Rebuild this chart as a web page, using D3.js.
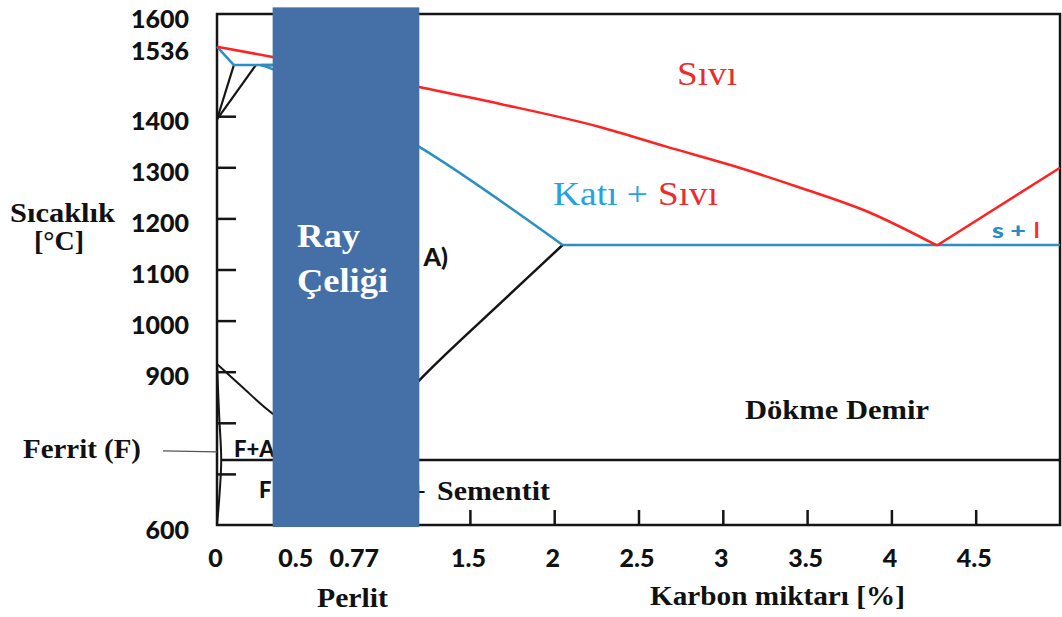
<!DOCTYPE html>
<html><head><meta charset="utf-8">
<script src="https://cdn.jsdelivr.net/npm/d3@7"></script>
<style>html,body{margin:0;padding:0;background:#fff;}svg{display:block;}</style>
</head><body>
<svg id="c" width="1062" height="617"></svg>
<script>
// ---- data ----
const tempTickValues = [1400,1300,1200,1100,1000,900,800,700];
const tempLabelValues = [1600,1536,1400,1300,1200,1100,1000,900,600];
const carbonLabelValues = [0,0.5,0.77,1.5,2,2.5,3,3.5,4,4.5];
const carbonTickValues = [0.5,1,1.5,2,2.5,3,3.5,4,4.5];

// liquidus, hypoeutectic branch (to the eutectic point) and hypereutectic branch
const liquidusC = [0,0.33,1.2,1.68,2.27,2.67,3.06,3.46,3.86,4.27];
const liquidusT = [1536,1516,1457,1424,1379,1340,1303,1260,1213,1147];
const liquidus2C = [4.27,5.0];
const liquidus2T = [1147,1299];
const deltaSolidusC = [0,0.1,0.5];
const deltaSolidusT = [1536,1500,1500];
const gammaSolidusC = [0.26,0.33,1.2,2.05];
const gammaSolidusT = [1500,1492,1340,1148];
const eutecticC = [2.05,5];
const eutecticT = [1148,1148];
const acmC = [0.77,1.22,1.70,2.05];
const acmT = [727,890,1040,1148];
const a3C = [0,0.15,0.33,0.77];
const a3T = [915,870,818,727];
const ferriteC = [0,0.012,0.025,0.015,0];
const ferriteT = [915,820,727,660,600];
const deltaGamma1C = [0,0.1];
const deltaGamma1T = [1394,1500];
const deltaGamma2C = [0,0.23];
const deltaGamma2T = [1394,1500];
const peritecticC = [0.26,0.33];
const peritecticT = [1500,1500];
const eutectoidC = [0.025,5];
const eutectoidT = [727,727];
const ferritLeaderC = [-0.32,0];
const ferritLeaderT = [745,743];
const railSteelC = [0.33,1.2];
const railSteelT = [596,1613];

// ---- scales ----
const svg = d3.select("#c");
svg.append("rect").attr("width",1062).attr("height",617).attr("fill","#fff");
const x = d3.scaleLinear().domain([0,5]).range([217,1060]);
const y = d3.scaleLinear().domain([600,1600]).range([525,14]);

const RED = "#ff2222", BLUE = "#2b8fc4", BLACK = "#151515";
const SERIF = "'Liberation Serif','Times New Roman',serif";
const SANS = "Lato,'Liberation Sans',Arial,sans-serif";

// frame
svg.append("rect")
  .attr("x", x(0)).attr("y", y(1600))
  .attr("width", x(5)-x(0)).attr("height", y(600)-y(1600))
  .attr("fill","none").attr("stroke",BLACK).attr("stroke-width",2.5);

// axes
const yLab = svg.append("g").attr("transform",`translate(${x(0)},0)`)
  .call(d3.axisLeft(y).tickValues(tempLabelValues).tickSize(0).tickPadding(28).tickFormat(d3.format("d")));
yLab.select(".domain").remove();
yLab.selectAll("text").attr("dy","0.52em").attr("font-family",SANS).attr("font-weight","900").attr("font-size",25).attr("fill","#111");

const yTk = svg.append("g").attr("transform",`translate(${x(0)},0)`)
  .call(d3.axisRight(y).tickValues(tempTickValues).tickSize(19).tickFormat(""));
yTk.select(".domain").remove();
yTk.selectAll("line").attr("stroke",BLACK).attr("stroke-width",2.5);

const xLab = svg.append("g").attr("transform",`translate(0,${y(600)})`)
  .call(d3.axisBottom(x).tickValues(carbonLabelValues).tickSize(0).tickPadding(24).tickFormat(d=>String(d)));
xLab.select(".domain").remove();
xLab.selectAll("text")
  .attr("dx", d => d === 0.5 ? "-6" : d === 0.77 ? "7" : "-2")
  .attr("font-family",SANS).attr("font-weight","900").attr("font-size",25).attr("fill","#111");

const xTk = svg.append("g").attr("transform",`translate(0,${y(600)})`)
  .call(d3.axisTop(x).tickValues(carbonTickValues).tickSize(15).tickFormat(""));
xTk.select(".domain").remove();
xTk.selectAll("line").attr("stroke",BLACK).attr("stroke-width",2.5);

// lines
function curve(cs, ts, color, w, c){
  const pts = cs.map((d,i)=>[d,ts[i]]);
  svg.append("path").datum(pts)
    .attr("d", d3.line().x(d=>x(d[0])).y(d=>y(d[1])).curve(c||d3.curveLinear))
    .attr("fill","none").attr("stroke",color).attr("stroke-width",w||2.5)
    .attr("stroke-linejoin","round");
}
curve(eutectoidC, eutectoidT, BLACK, 2.5);
curve(ferriteC, ferriteT, BLACK, 2, d3.curveCatmullRom);
curve(a3C, a3T, BLACK, 2, d3.curveCatmullRom);
curve(acmC, acmT, BLACK, 2.5, d3.curveCatmullRom);
curve(deltaGamma1C, deltaGamma1T, BLACK, 2.2);
curve(deltaGamma2C, deltaGamma2T, BLACK, 2.2);
curve(peritecticC, peritecticT, BLACK, 2.5);
curve(deltaSolidusC, deltaSolidusT, BLUE, 2.5);
curve(gammaSolidusC, gammaSolidusT, BLUE, 2.5, d3.curveCatmullRom);
curve(eutecticC, eutecticT, BLUE, 2.5);
curve(liquidusC, liquidusT, RED, 2.5, d3.curveMonotoneX);
curve(liquidus2C, liquidus2T, RED, 2.5);
curve(ferritLeaderC, ferritLeaderT, "#555", 1.3);

// texts
function txt(s, px, py, o){
  const t = svg.append("text").attr("x",px).attr("y",py).text(s)
    .attr("font-family",o.ff||SERIF).attr("font-weight",o.fw||"bold")
    .attr("font-size",o.fs).attr("fill",o.fill||"#111")
    .attr("text-anchor",o.anchor||"start");
  if (o.tl) t.attr("textLength",o.tl).attr("lengthAdjust","spacingAndGlyphs");
  return t;
}
txt("Sıcaklık", 10, 222, {fs:28, tl:105});
txt("[°C]", 59, 250, {fs:28, anchor:"middle"});
txt("Ferrit (F)", 23, 458, {fs:28, tl:118});
txt("Perlit", 317, 607, {fs:28, tl:71});
txt("Karbon miktarı [%]", 650, 605, {fs:28, tl:255});
txt("Dökme Demir", 745, 419, {fs:28, tl:184});
txt("Sıvı", 677, 85, {fs:34, fw:"normal", fill:"#ee2b2b", tl:60});
txt("Katı +", 553, 205, {fs:33, fw:"normal", fill:"#27a2e0", tl:95});
txt("Sıvı", 658, 205, {fs:33, fw:"normal", fill:"#ee2b2b", tl:60});
txt("s +", 992, 238, {ff:SANS, fw:"900", fs:21, fill:"#2b8cc4", tl:34});
txt("l", 1034, 238, {ff:SANS, fw:"900", fs:21, fill:"#ff2a2a"});
txt("F+A", 234, 457, {ff:SANS, fw:"900", fs:22});
txt("F", 259, 498, {ff:SANS, fw:"900", fs:22});
txt("A)", 448, 266, {ff:SANS, fw:"900", fs:25, anchor:"end"});
txt("+", 426, 501, {fs:28, anchor:"end"});
txt("Sementit", 437, 500, {fs:28, tl:113});

// rail steel band
svg.append("rect")
  .attr("x", x(railSteelC[0])).attr("y", y(railSteelT[1]))
  .attr("width", x(railSteelC[1])-x(railSteelC[0]))
  .attr("height", y(railSteelT[0])-y(railSteelT[1]))
  .attr("fill","#4470a7");
txt("Ray", 297, 247, {fs:33, fill:"#fff", tl:63});
txt("Çeliği", 297, 292, {fs:33, fill:"#fff", tl:91});
</script>
</body></html>
